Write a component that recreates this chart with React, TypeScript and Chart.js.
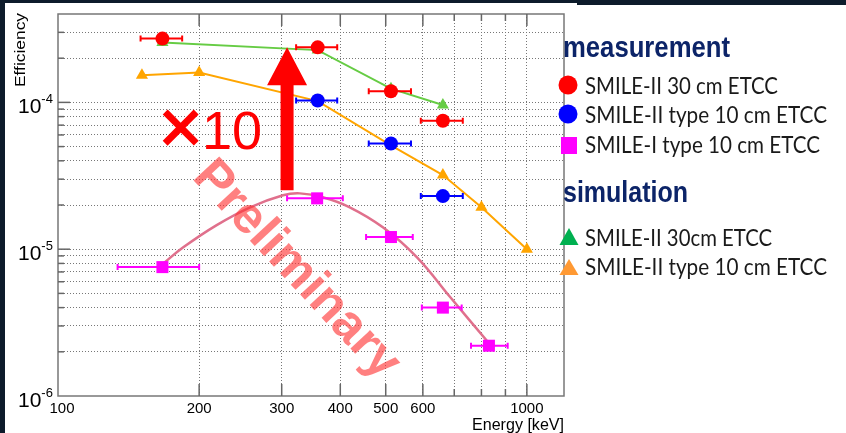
import React, { useEffect, useRef } from 'react';
import { Chart, registerables } from 'chart.js';

Chart.register(...registerables);

// ---------- data ----------
// measurement: SMILE-II 30 cm ETCC
const energyMeas30 = [167, 358, 513, 662];
const effMeas30 = [2.72e-4, 2.37e-4, 1.19e-4, 7.5e-5];
const errMeas30Low = [150, 322, 460, 594];
const errMeas30High = [184, 394, 566, 730];

// measurement: SMILE-II type 10 cm ETCC
const energyMeas10 = [358, 513, 662];
const effMeas10 = [1.03e-4, 5.25e-5, 2.3e-5];
const errMeas10Low = [322, 460, 594];
const errMeas10High = [394, 566, 730];

// measurement: SMILE-I type 10 cm ETCC
const energySmile1 = [167, 357, 513, 662, 830];
const effSmile1 = [7.55e-6, 2.22e-5, 1.21e-5, 4.0e-6, 2.2e-6];
const errSmile1Low = [134, 308, 454, 597, 760];
const errSmile1High = [200, 405, 571, 726, 910];

// simulation: SMILE-II 30cm ETCC
const energySim30 = [167, 358, 513, 662];
const effSim30 = [2.56e-4, 2.27e-4, 1.24e-4, 9.6e-5];

// simulation: SMILE-II type 10 cm ETCC
const energySim10 = [151, 200, 358, 513, 662, 800, 1000];
const effSim10 = [1.53e-4, 1.6e-4, 1.02e-4, 5.1e-5, 3.2e-5, 1.93e-5, 1.0e-5];

// fitted curve through SMILE-I points
const fitEnergy = [167, 185, 218, 257, 302, 328, 367, 419, 493, 583, 686, 826];
const fitEff = [7.9e-6, 1.03e-5, 1.46e-5, 1.93e-5, 2.33e-5, 2.4e-5, 2.26e-5, 1.93e-5, 1.41e-5, 8.8e-6, 4.72e-6, 2.33e-6];

// axes
const xMin = 100;
const xMax = 1200;
const yMin = 1e-6;
const yMax = 4e-4;
const xGrid = [200, 300, 400, 500, 600, 700, 800, 900, 1000];
const xTickLabels = [100, 200, 300, 400, 500, 600, 1000];
const yGrid = [
  2e-6, 3e-6, 4e-6, 5e-6, 6e-6, 7e-6, 8e-6, 9e-6,
  1e-5, 2e-5, 3e-5, 4e-5, 5e-5, 6e-5, 7e-5, 8e-5, 9e-5,
  1e-4, 2e-4, 3e-4,
];
const yTickValues = [1e-4, 1e-5, 1e-6];
const yTickBase = ['10', '10', '10'];
const yTickExp = ['-4', '-5', '-6'];
const xTitle = 'Energy [keV]';
const yTitle = 'Efficiency';

// legend
const legendHeadings = ['measurement', 'simulation'];
const legendLabels = [
  'SMILE-II 30 cm ETCC',
  'SMILE-II type 10 cm ETCC',
  'SMILE-I type 10 cm ETCC',
  'SMILE-II 30cm ETCC',
  'SMILE-II type 10 cm ETCC',
];

// annotations (in data units)
const arrowEnergy = 308;
const arrowFrom = 2.52e-5;
const arrowTo = 2.37e-4;
const timesSignAt = [163.8, 4.5e-5];
const timesTenAt = [202.8, 4.79e-5];
const prelimAt = [306.5, 6.2e-6];
const prelimText = 'Preliminary';

const RED = '#ff0000';
const BLUE = '#0000ff';
const MAGENTA = '#ff00ff';
const GREEN = '#66cc44';
const ORANGE = '#ffa500';
const FIT = '#e0708c';

function fitText(ctx: CanvasRenderingContext2D, text: string, x: number, y: number, w: number, font: string, color: string) {
  ctx.save();
  ctx.font = font;
  ctx.fillStyle = color;
  ctx.textAlign = 'left';
  ctx.textBaseline = 'alphabetic';
  const m = ctx.measureText(text).width;
  ctx.translate(x, y);
  ctx.scale(w / m, 1);
  ctx.fillText(text, 0, 0);
  ctx.restore();
}

const bgPlugin = {
  id: 'bgPlugin',
  beforeDraw(chart: any) {
    const { ctx, width, height } = chart;
    ctx.save();
    ctx.fillStyle = '#0d1b2b';
    ctx.fillRect(0, 0, width, height);
    ctx.fillStyle = '#ffffff';
    ctx.fillRect(5, 3, width - 5, height - 3);
    ctx.fillStyle = '#0d1b2b';
    ctx.fillRect(577, 0, width - 577, 5);
    ctx.restore();
  },
};

const errorBarPlugin = {
  id: 'errorBarPlugin',
  beforeDatasetDraw(chart: any, args: any) {
    const ds = chart.data.datasets[args.index];
    if (!ds.errLow) return;
    const xs = chart.scales.x;
    const ys = chart.scales.y;
    const ctx = chart.ctx;
    ctx.save();
    ctx.strokeStyle = ds.borderColor;
    ctx.lineWidth = 2;
    ds.data.forEach((p: any, i: number) => {
      const y = ys.getPixelForValue(p.y);
      const x1 = xs.getPixelForValue(ds.errLow[i]);
      const x2 = xs.getPixelForValue(ds.errHigh[i]);
      ctx.beginPath();
      ctx.moveTo(x1, y);
      ctx.lineTo(x2, y);
      ctx.moveTo(x1, y - 3);
      ctx.lineTo(x1, y + 3);
      ctx.moveTo(x2, y - 3);
      ctx.lineTo(x2, y + 3);
      ctx.stroke();
    });
    ctx.restore();
  },
};

const decorPlugin = {
  id: 'decorPlugin',
  afterDraw(chart: any) {
    const { ctx, chartArea: a } = chart;
    const xs = chart.scales.x;
    const ys = chart.scales.y;
    ctx.save();

    // frame
    ctx.strokeStyle = '#777777';
    ctx.lineWidth = 1.5;
    ctx.strokeRect(a.left, a.top, a.right - a.left, a.bottom - a.top);

    // x tick marks (bottom and top, inward)
    ctx.lineWidth = 1.5;
    ctx.strokeStyle = '#666666';
    xGrid.forEach((v) => {
      const px = xs.getPixelForValue(v);
      const len = xTickLabels.includes(v) ? 12 : 7;
      ctx.beginPath();
      ctx.moveTo(px, a.bottom);
      ctx.lineTo(px, a.bottom - len);
      ctx.moveTo(px, a.top);
      ctx.lineTo(px, a.top + len);
      ctx.stroke();
    });
    // y tick marks (left, inward)
    yGrid.forEach((v) => {
      const py = ys.getPixelForValue(v);
      const len = yTickValues.includes(v) ? 12 : 6;
      ctx.beginPath();
      ctx.moveTo(a.left, py);
      ctx.lineTo(a.left + len, py);
      ctx.stroke();
    });

    // x tick labels
    ctx.fillStyle = '#000000';
    ctx.font = '15px "Liberation Sans", Arial, sans-serif';
    ctx.textAlign = 'center';
    ctx.textBaseline = 'alphabetic';
    xTickLabels.forEach((v, i) => {
      const px = xs.getPixelForValue(v) + (i === 0 ? 4 : 0);
      ctx.fillText(String(v), px, a.bottom + 17);
    });

    // y tick labels 10^n
    yTickValues.forEach((v, i) => {
      const py = ys.getPixelForValue(v);
      ctx.textAlign = 'left';
      ctx.font = '21px "Liberation Sans", Arial, sans-serif';
      ctx.fillText(yTickBase[i], 18, py + 11);
      const w = ctx.measureText(yTickBase[i]).width;
      ctx.font = '13px "Liberation Sans", Arial, sans-serif';
      ctx.fillText(yTickExp[i], 18 + w, py + 1);
    });

    // axis titles
    fitText(ctx, xTitle, a.right - 92, a.bottom + 34, 92, '16px "Liberation Sans", Arial, sans-serif', '#000000');
    ctx.save();
    ctx.translate(25, 87);
    ctx.rotate(-Math.PI / 2);
    fitText(ctx, yTitle, 0, 0, 74, '15px "Liberation Sans", Arial, sans-serif', '#000000');
    ctx.restore();

    // red arrow
    const ax = xs.getPixelForValue(arrowEnergy);
    const ay0 = ys.getPixelForValue(arrowFrom);
    const ay1 = ys.getPixelForValue(arrowTo);
    const headLen = 38;
    const headHalf = 20;
    const shaftHalf = 6.5;
    ctx.fillStyle = RED;
    ctx.beginPath();
    ctx.moveTo(ax - shaftHalf, ay0);
    ctx.lineTo(ax - shaftHalf, ay1 + headLen);
    ctx.lineTo(ax - headHalf, ay1 + headLen);
    ctx.lineTo(ax, ay1);
    ctx.lineTo(ax + headHalf, ay1 + headLen);
    ctx.lineTo(ax + shaftHalf, ay1 + headLen);
    ctx.lineTo(ax + shaftHalf, ay0);
    ctx.closePath();
    ctx.fill();

    // ×10
    ctx.fillStyle = RED;
    ctx.strokeStyle = RED;
    ctx.lineWidth = 1.5;
    ctx.textAlign = 'left';
    ctx.font = '76px "Liberation Sans", Arial, sans-serif';
    const tx = xs.getPixelForValue(timesSignAt[0]);
    const ty = ys.getPixelForValue(timesSignAt[1]);
    ctx.fillText('×', tx, ty);
    ctx.strokeText('×', tx, ty);
    ctx.font = '54px "Liberation Sans", Arial, sans-serif';
    ctx.fillText('10', xs.getPixelForValue(timesTenAt[0]), ys.getPixelForValue(timesTenAt[1]));

    // Preliminary watermark
    ctx.save();
    ctx.translate(xs.getPixelForValue(prelimAt[0]), ys.getPixelForValue(prelimAt[1]));
    ctx.rotate((47 * Math.PI) / 180);
    ctx.font = 'bold 51px "Liberation Sans", Arial, sans-serif';
    ctx.fillStyle = 'rgba(255, 50, 50, 0.62)';
    ctx.textAlign = 'center';
    ctx.fillText(prelimText, 0, 0);
    ctx.restore();

    // legend
    const navy = '#0c2468';
    const txt = '#1a1a1a';
    fitText(ctx, legendHeadings[0], 563, 57, 167, 'bold 30px "Liberation Sans", Arial, sans-serif', navy);
    fitText(ctx, legendHeadings[1], 563, 202, 125, 'bold 30px "Liberation Sans", Arial, sans-serif', navy);
    const lf = '24px Lato, "Liberation Sans", sans-serif';
    const rows = [
      { y: 94, w: 193 },
      { y: 123, w: 242 },
      { y: 153, w: 235 },
      { y: 246, w: 187 },
      { y: 275, w: 242 },
    ];
    rows.forEach((r, i) => fitText(ctx, legendLabels[i], 585, r.y, r.w, lf, txt));

    // legend markers
    ctx.fillStyle = RED;
    ctx.beginPath();
    ctx.arc(568, 85, 9.5, 0, Math.PI * 2);
    ctx.fill();
    ctx.fillStyle = BLUE;
    ctx.beginPath();
    ctx.arc(568, 114, 9.5, 0, Math.PI * 2);
    ctx.fill();
    ctx.fillStyle = MAGENTA;
    ctx.fillRect(561, 137, 16, 17);
    ctx.fillStyle = '#00b050';
    ctx.beginPath();
    ctx.moveTo(569, 228);
    ctx.lineTo(578.5, 245);
    ctx.lineTo(559.5, 245);
    ctx.closePath();
    ctx.fill();
    ctx.fillStyle = '#ff9933';
    ctx.beginPath();
    ctx.moveTo(569, 259);
    ctx.lineTo(578.5, 275);
    ctx.lineTo(559.5, 275);
    ctx.closePath();
    ctx.fill();

    ctx.restore();
  },
};

function pts(xs: number[], ys: number[]) {
  return xs.map((x, i) => ({ x, y: ys[i] }));
}

export default function App() {
  const ref = useRef<HTMLCanvasElement | null>(null);

  useEffect(() => {
    if (!ref.current) return;
    const chart = new Chart(ref.current, {
      type: 'scatter',
      data: {
        datasets: [
          {
            label: legendLabels[0],
            data: pts(energyMeas30, effMeas30),
            showLine: false,
            pointStyle: 'circle',
            pointRadius: 7,
            backgroundColor: RED,
            borderColor: RED,
            borderWidth: 0,
            order: 1,
            errLow: errMeas30Low,
            errHigh: errMeas30High,
          } as any,
          {
            label: legendLabels[1],
            data: pts(energyMeas10, effMeas10),
            showLine: false,
            pointStyle: 'circle',
            pointRadius: 7,
            backgroundColor: BLUE,
            borderColor: BLUE,
            borderWidth: 0,
            order: 1,
            errLow: errMeas10Low,
            errHigh: errMeas10High,
          } as any,
          {
            label: legendLabels[2],
            data: pts(energySmile1, effSmile1),
            showLine: false,
            pointStyle: 'rect',
            pointRadius: 8.5,
            backgroundColor: MAGENTA,
            borderColor: MAGENTA,
            borderWidth: 0,
            order: 1,
            errLow: errSmile1Low,
            errHigh: errSmile1High,
          } as any,
          {
            label: legendLabels[3],
            data: pts(energySim30, effSim30),
            showLine: true,
            borderColor: GREEN,
            backgroundColor: GREEN,
            borderWidth: 2,
            pointStyle: 'triangle',
            pointRadius: 7,
            pointBorderWidth: 0,
            order: 3,
          },
          {
            label: legendLabels[4],
            data: pts(energySim10, effSim10),
            showLine: true,
            borderColor: ORANGE,
            backgroundColor: ORANGE,
            borderWidth: 2,
            pointStyle: 'triangle',
            pointRadius: 7,
            pointBorderWidth: 0,
            order: 3,
          },
          {
            label: 'fit',
            data: pts(fitEnergy, fitEff),
            showLine: true,
            borderColor: FIT,
            borderWidth: 2.5,
            pointRadius: 0,
            tension: 0.4,
            order: 4,
          },
        ],
      },
      options: {
        animation: false,
        responsive: false,
        maintainAspectRatio: false,
        layout: { padding: { left: 58, top: 14, right: 282, bottom: 37 } },
        plugins: {
          legend: { display: false },
          tooltip: { enabled: false },
        },
        scales: {
          x: {
            type: 'logarithmic',
            min: xMin,
            max: xMax,
            afterBuildTicks: (s: any) => {
              s.ticks = xGrid.map((v) => ({ value: v }));
            },
            ticks: { display: false },
            grid: { color: '#777777', lineWidth: 1, drawTicks: false },
            border: { display: false, dash: [1, 2] },
          },
          y: {
            type: 'logarithmic',
            min: yMin,
            max: yMax,
            afterBuildTicks: (s: any) => {
              s.ticks = yGrid.map((v) => ({ value: v }));
            },
            ticks: { display: false },
            grid: { color: '#777777', lineWidth: 1, drawTicks: false },
            border: { display: false, dash: [1, 2] },
          },
        },
      },
      plugins: [bgPlugin, errorBarPlugin, decorPlugin],
    });
    return () => chart.destroy();
  }, []);

  return (
    <div style={{ position: 'fixed', left: 0, top: 0, width: 846, height: 433 }}>
      <canvas ref={ref} width={846} height={433} style={{ display: 'block', width: 846, height: 433 }} />
    </div>
  );
}
